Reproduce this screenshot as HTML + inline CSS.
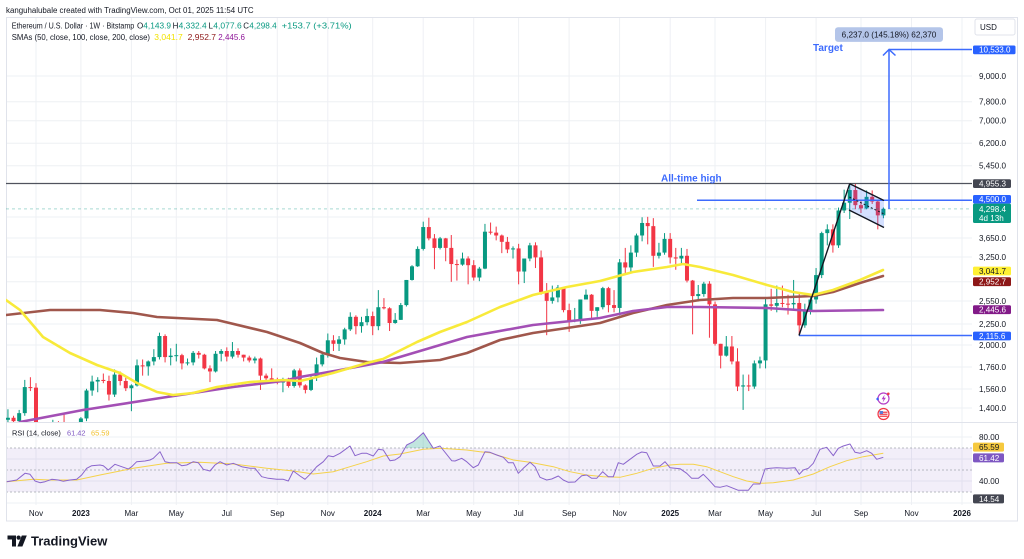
<!DOCTYPE html>
<html><head><meta charset="utf-8">
<style>
html,body{margin:0;padding:0;background:#fff;width:1024px;height:559px;overflow:hidden}
svg{position:absolute;left:0;top:0}
text{font-family:"Liberation Sans",Arial,sans-serif}
</style></head><body>
<svg width="1024" height="559">
<rect x="0" y="0" width="1024" height="559" fill="#fff"/>
<g stroke="#eef0f4" stroke-width="1">
<line x1="36" y1="17" x2="36" y2="505"/><line x1="80.9" y1="17" x2="80.9" y2="505"/><line x1="131.4" y1="17" x2="131.4" y2="505"/><line x1="176.3" y1="17" x2="176.3" y2="505"/><line x1="226.8" y1="17" x2="226.8" y2="505"/><line x1="277.3" y1="17" x2="277.3" y2="505"/><line x1="327.8" y1="17" x2="327.8" y2="505"/><line x1="372.7" y1="17" x2="372.7" y2="505"/><line x1="423.2" y1="17" x2="423.2" y2="505"/><line x1="473.7" y1="17" x2="473.7" y2="505"/><line x1="518.6" y1="17" x2="518.6" y2="505"/><line x1="569.1" y1="17" x2="569.1" y2="505"/><line x1="619.6" y1="17" x2="619.6" y2="505"/><line x1="670.2" y1="17" x2="670.2" y2="505"/><line x1="715" y1="17" x2="715" y2="505"/><line x1="765.6" y1="17" x2="765.6" y2="505"/><line x1="816.1" y1="17" x2="816.1" y2="505"/><line x1="861" y1="17" x2="861" y2="505"/><line x1="911.5" y1="17" x2="911.5" y2="505"/><line x1="962" y1="17" x2="962" y2="505"/>
<line x1="6" y1="76" x2="972" y2="76"/><line x1="6" y1="101.7" x2="972" y2="101.7"/><line x1="6" y1="120.7" x2="972" y2="120.7"/><line x1="6" y1="143.3" x2="972" y2="143.3"/><line x1="6" y1="165.7" x2="972" y2="165.7"/><line x1="6" y1="217" x2="972" y2="217"/><line x1="6" y1="238" x2="972" y2="238"/><line x1="6" y1="257" x2="972" y2="257"/><line x1="6" y1="281.8" x2="972" y2="281.8"/><line x1="6" y1="301" x2="972" y2="301"/><line x1="6" y1="324" x2="972" y2="324"/><line x1="6" y1="345" x2="972" y2="345"/><line x1="6" y1="367" x2="972" y2="367"/><line x1="6" y1="389" x2="972" y2="389"/><line x1="6" y1="408" x2="972" y2="408"/>
<line x1="6" y1="437" x2="972" y2="437"/><line x1="6" y1="459" x2="972" y2="459"/><line x1="6" y1="481" x2="972" y2="481"/><line x1="6" y1="503" x2="972" y2="503"/>
</g>
<rect x="6" y="448" width="966" height="44" fill="#7e57c2" fill-opacity="0.1"/>
<g stroke="#a3a6af" stroke-width="0.8" stroke-dasharray="2,2">
<line x1="6" y1="448" x2="972" y2="448"/><line x1="6" y1="470" x2="972" y2="470"/><line x1="6" y1="492" x2="972" y2="492"/>
</g>
<line x1="6" y1="422.5" x2="1017" y2="422.5" stroke="#e0e3eb"/>
<rect x="6.5" y="17.5" width="1011" height="503.5" fill="none" stroke="#e0e3eb"/>
</svg>
<div id="cd" style="position:absolute;left:0;top:0;width:1024px;height:559px"></div>
<svg width="1024" height="559">
<defs><clipPath id="mc"><rect x="6" y="17" width="966" height="405"/></clipPath></defs>
<g clip-path="url(#mc)" fill="none" stroke-linejoin="round" stroke-linecap="round">
<polyline stroke="#a0574c" stroke-width="2.6" points="6,315 50,310 100,310 133,313 157,317 217,320 267,332 300,343 323,353 340,358 367,362 400,363 440,360 467,353 500,340 533,333 567,328 600,323 633,313 667,305 700,300 733,298 767,298 813,296 833,292 860,283 883,276"/>
<polyline stroke="#a34fb5" stroke-width="2.6" points="20,422 83,410 167,397 233,387 283,381 300,377 340,370 383,362 467,337 533,325 600,318 633,311 667,307 700,307 767,308 813,311 883,310"/>
<polyline stroke="#f8ea3a" stroke-width="2.6" points="6,300 20,310 43,337 70,353 97,365 120,373 137,383 157,392 173,395 193,393 217,387 250,382 283,380 300,381 317,377 333,373 367,363 383,359 417,342 440,332 467,322 500,307 533,295 567,287 600,281 633,272 667,267 683,264 700,267 733,275 767,285 793,292 813,295 833,290 860,280 883,270"/>
</g>
<!-- RSI -->
<polygon points="405,448 406.7,445 413.3,441.7 423.3,432.7 433,448" fill="#089981" fill-opacity="0.25"/>
<polyline fill="none" stroke="#f5d24a" stroke-width="1" points="6.7,481.7 33.3,479.3 50,480 76.7,480 100,475 133.3,468.3 166.7,463.3 200,462.3 233.3,464 266.7,468.3 293.3,471 313.3,474 333.3,471.7 350,466.7 366.7,461.7 383.3,456 400,454 423.3,449.3 440,448.3 466.7,450 480,451.7 490,452.7 500,456 513.3,460 530,462.3 553.3,466.7 570,471.7 586.7,475 603.3,476.7 620,477.3 636.7,473.3 653.3,468.3 670,465 680,464.3 693.3,464.3 706.7,466.7 720,471.7 733.3,476.7 746.7,481 760,483.3 773.3,482.7 793.3,480 813.3,474 830,466.7 846.7,460.7 863.3,456.7 883.3,453.3"/>
<polyline fill="none" stroke="#8a65cc" stroke-width="1" stroke-linejoin="round" points="6.7,481.7 16.7,480 25,473.3 30,474.3 35,481 40,482.7 45,481.7 51.7,479.3 58.3,480 63.3,481.3 70,480 76.7,479.3 81.7,475 86.7,468.3 91.7,465.7 100,465 103.3,465.7 108.3,470 115,464.3 121.7,466.7 128.3,469 131.7,466.7 136.7,461.7 145,461 150,460 153.3,458.3 160,451.7 165,461.7 170,462.7 176.7,462.7 181.7,465.7 186.7,465 193.3,461.7 198.3,462.7 203.3,469.3 210,471 215,465 220,461.7 226.7,465 233.3,463.3 241.7,466.7 250,468.3 255,468.3 261.7,476.7 268.3,478.3 276.7,479.3 283.3,479.3 288.3,481 293.3,471 300,476 305,479.3 310,474.3 316.7,466.7 323.3,461.7 328.3,455.7 333.3,456.7 340,453.3 350,446 355,455.7 361.7,453.3 366.7,453.3 373.3,456 378.3,449.3 383.3,450 390,460.7 395,460 400,456.7 406.7,445 413.3,441.7 423.3,432.7 433.3,448.3 440,446 451.7,460.7 455,461 461.7,458.3 466.7,461.7 473.3,467.7 478.3,465 485,451.7 490,452.3 496.7,455 503.3,457.3 508.3,462.7 513.3,462.7 518.3,473.3 523.3,468.3 530,462.3 535,466.7 540,477.3 546.7,480 551.7,479 558.3,476 563.3,480 568.3,482.3 575,482 581.7,475.7 586.7,475 591.7,478.3 596.7,478.3 602.7,471.7 608.3,476.7 613.3,476.7 618.3,462.7 623.3,464.3 630,459.3 636.7,454.3 641.7,452 646.7,452.7 653.3,466 660,466 665,461.7 670,467.7 680,468.7 686.7,473.3 691.7,478.3 698.3,478.3 703.3,474.3 708.3,479.3 715,486.7 720,487.3 726.7,485.7 733.3,488.3 738.3,490.3 748.3,490.3 753.3,484 760,484 765,469 770,468.3 776.7,467.7 786.7,468.3 795,467.7 799.3,474.3 803.3,470 808.3,468.3 813.3,463.3 820,449.3 826.7,447.3 833.3,455.7 838.3,448.3 843.3,446 850,444 855,452.3 860,453.3 866.7,450.7 871.7,453.3 876.7,459.3 883.3,457.3"/>
<!-- annotations -->
<line x1="6" y1="208.9" x2="972" y2="208.9" stroke="#089981" stroke-opacity="0.35" stroke-dasharray="3,3"/>
<line x1="6" y1="183.5" x2="972" y2="183.5" stroke="#50535e" stroke-width="1.2"/>
<line x1="697" y1="200.3" x2="972" y2="200.3" stroke="#3d6bfd" stroke-width="1.5"/>
<line x1="799" y1="335.5" x2="972" y2="335.5" stroke="#3d6bfd" stroke-width="1.5"/>
<line x1="889" y1="209" x2="889" y2="49.5" stroke="#3d6bfd" stroke-width="1.5"/>
<line x1="889" y1="49.5" x2="972" y2="49.5" stroke="#3d6bfd" stroke-width="1.5"/>
<polyline points="883,55.5 889,49.5 895.5,55.5" fill="none" stroke="#3d6bfd" stroke-width="1.5"/>
<polygon points="849.7,183.7 884,200.5 884,227.5 849,210" fill="#2962ff" fill-opacity="0.2"/>
<line x1="799" y1="335.5" x2="849.7" y2="183.7" stroke="#131722" stroke-width="1.4"/>
<line x1="849.7" y1="183.7" x2="884" y2="200.5" stroke="#131722" stroke-width="1.4"/>
<line x1="849" y1="210" x2="884" y2="227.5" stroke="#131722" stroke-width="1.4"/>
<line x1="849.3" y1="197" x2="884" y2="214" stroke="#131722" stroke-width="1" stroke-dasharray="2,2"/>
<text x="661" y="181.3" font-size="10" font-weight="bold" fill="#3d6bfd">All-time high</text>
<text x="813" y="50.8" font-size="10" font-weight="bold" fill="#3d6bfd">Target</text>
<rect x="835" y="27.3" width="108" height="14.6" rx="3" fill="#b4c5e9"/>
<text x="889" y="37.4" font-size="8.2" fill="#131722" text-anchor="middle">6,237.0 (145.18%) 62,370</text>
<!-- event icons -->
<circle cx="883.5" cy="398.5" r="5.5" fill="#fff" stroke="#b43fc7" stroke-width="1.2"/>
<path d="M884.6 394.6 L881.6 399.2 H883.6 L882.6 402.6 L885.9 397.8 H883.9 Z" fill="#b43fc7"/>
<circle cx="888.3" cy="393.8" r="1.3" fill="#f23645"/>
<path d="M876 399 h3 M877.5 397.5 v3" stroke="#2962ff" stroke-width="0.9"/>
<circle cx="883.5" cy="414" r="5.5" fill="#fff" stroke="#f23645" stroke-width="1.2"/>
<rect x="879.5" y="411" width="8" height="6" fill="#f7b8bc"/>
<path d="M879.5 412.5 h8 M879.5 414.5 h8 M879.5 416.5 h8" stroke="#f23645" stroke-width="0.7"/>
<rect x="879.5" y="411" width="3.5" height="3" fill="#5b7bd6"/>
<!-- header -->
<text x="6" y="13" font-size="7.9" fill="#131722">kanguhalubale created with TradingView.com, Oct 01, 2025 11:54 UTC</text>
<g font-size="8" fill="#131722">
<text x="11.7" y="28.5" textLength="122.6" lengthAdjust="spacingAndGlyphs">Ethereum / U.S. Dollar · 1W · Bitstamp</text>
<text x="137" y="28.5">O</text>
<text x="143.3" y="28.5" fill="#089981" textLength="27.7" lengthAdjust="spacingAndGlyphs">4,143.9</text>
<text x="172.6" y="28.5">H</text>
<text x="178.7" y="28.5" fill="#089981" textLength="28" lengthAdjust="spacingAndGlyphs">4,332.4</text>
<text x="208.5" y="28.5">L</text>
<text x="213.3" y="28.5" fill="#089981" textLength="28.4" lengthAdjust="spacingAndGlyphs">4,077.6</text>
<text x="243.2" y="28.5">C</text>
<text x="249.3" y="28.5" fill="#089981" textLength="27.4" lengthAdjust="spacingAndGlyphs">4,298.4</text>
<text x="281.7" y="28.5" fill="#089981" textLength="70" lengthAdjust="spacingAndGlyphs">+153.7 (+3.71%)</text>
<text x="11.7" y="40" textLength="138.3" lengthAdjust="spacingAndGlyphs">SMAs (50, close, 100, close, 200, close)</text>
<text x="154.3" y="40" fill="#f2e200" textLength="28.4" lengthAdjust="spacingAndGlyphs">3,041.7</text>
<text x="187.7" y="40" fill="#8d1717" textLength="28.3" lengthAdjust="spacingAndGlyphs">2,952.7</text>
<text x="218.3" y="40" fill="#8e1599" textLength="26.7" lengthAdjust="spacingAndGlyphs">2,445.6</text>
</g>
<text y="435.6" font-size="7.4" fill="#131722"><tspan x="12">RSI (14, close)</tspan><tspan x="67" fill="#7e57c2">61.42</tspan><tspan x="91" fill="#f2c12e">65.59</tspan></text>
<!-- price axis -->
<rect x="975" y="19" width="40" height="16" rx="2" fill="#fff" stroke="#e0e3eb"/>
<text x="980" y="30" font-size="8" fill="#131722">USD</text>
<g font-size="8.1" fill="#131722">
<text x="979" y="78.9">9,000.0</text><text x="979" y="104.6">7,800.0</text><text x="979" y="123.6">7,000.0</text><text x="979" y="146.2">6,200.0</text><text x="979" y="168.6">5,450.0</text><text x="979" y="240.9">3,650.0</text><text x="979" y="259.9">3,250.0</text><text x="979" y="303.9">2,550.0</text><text x="979" y="326.9">2,250.0</text><text x="979" y="347.9">2,000.0</text><text x="979" y="369.9">1,760.0</text><text x="979" y="391.9">1,560.0</text><text x="979" y="410.9">1,400.0</text>
<text x="979" y="439.9">80.00</text><text x="979" y="483.9">40.00</text>
</g>
<rect x="973" y="45.5" width="42.5" height="8.8" rx="1.5" fill="#2962ff"/><text x="979" y="52.7" font-size="8.1" fill="#fff">10,533.0</text>
<rect x="973" y="179.2" width="38" height="8.8" rx="1.5" fill="#434651"/><text x="979" y="186.4" font-size="8.1" fill="#fff">4,955.3</text>
<rect x="973" y="195" width="38" height="8.6" rx="1.5" fill="#2962ff"/><text x="979" y="202.1" font-size="8.1" fill="#fff">4,500.0</text>
<rect x="973" y="203.6" width="38" height="19.4" rx="1.5" fill="#089981"/><text x="979" y="211.9" font-size="8.1" fill="#fff">4,298.4</text><text x="979" y="220.9" font-size="8.1" fill="#fff">4d 13h</text>
<rect x="973" y="266.6" width="38" height="8.8" rx="1.5" fill="#fff033"/><text x="979" y="273.9" font-size="8.1" fill="#131722">3,041.7</text>
<rect x="973" y="277.3" width="38" height="8.8" rx="1.5" fill="#8d1717"/><text x="979" y="284.6" font-size="8.1" fill="#fff">2,952.7</text>
<rect x="973" y="305.3" width="38" height="8.8" rx="1.5" fill="#821a88"/><text x="979" y="312.6" font-size="8.1" fill="#fff">2,445.6</text>
<rect x="973" y="331.6" width="38" height="8.8" rx="1.5" fill="#2962ff"/><text x="979" y="338.9" font-size="8.1" fill="#fff">2,115.6</text>
<rect x="973" y="442.6" width="31" height="9" rx="1.5" fill="#f6c93e"/><text x="979" y="449.9" font-size="8.1" fill="#131722">65.59</text>
<rect x="973" y="453.4" width="31" height="9" rx="1.5" fill="#7e57c2"/><text x="979" y="460.9" font-size="8.1" fill="#fff">61.42</text>
<rect x="973" y="494.4" width="31" height="9" rx="1.5" fill="#434651"/><text x="979" y="501.9" font-size="8.1" fill="#fff">14.54</text>
<!-- time axis -->
<g font-size="8" fill="#131722" text-anchor="middle">
<text x="36" y="516">Nov</text><text x="80.9" y="516" font-weight="bold">2023</text><text x="131.4" y="516">Mar</text><text x="176.3" y="516">May</text><text x="226.8" y="516">Jul</text><text x="277.3" y="516">Sep</text><text x="327.8" y="516">Nov</text><text x="372.7" y="516" font-weight="bold">2024</text><text x="423.2" y="516">Mar</text><text x="473.7" y="516">May</text><text x="518.6" y="516">Jul</text><text x="569.1" y="516">Sep</text><text x="619.6" y="516">Nov</text><text x="670.2" y="516" font-weight="bold">2025</text><text x="715" y="516">Mar</text><text x="765.6" y="516">May</text><text x="816.1" y="516">Jul</text><text x="861" y="516">Sep</text><text x="911.5" y="516">Nov</text><text x="962" y="516" font-weight="bold">2026</text>
</g>
<!-- logo -->
<path d="M7.5 535.5 H16 V546.5 H12 V539.5 H7.5 Z" fill="#131722"/>
<circle cx="18.6" cy="537.6" r="2.1" fill="#131722"/>
<path d="M21.8 535.5 H26.8 L22.4 546.5 H17.4 Z" fill="#131722"/>
<text x="31" y="545.6" font-size="13" font-weight="bold" fill="#131722">TradingView</text>
</svg>
<script>
var D=[
[1310,1390,1290,1325],[1325,1340,1190,1300],[1300,1385,1270,1360],[1360,1640,1340,1575],[1575,1665,1540,1570],
[1570,1610,1070,1250],[1250,1290,1180,1200],[1200,1230,1070,1210],[1210,1310,1150,1280],[1280,1300,1220,1270],
[1270,1350,1160,1170],[1170,1230,1150,1220],[1220,1230,1190,1200],[1200,1330,1190,1320],[1320,1560,1300,1545],
[1545,1680,1500,1625],[1625,1665,1530,1640],[1640,1700,1610,1630],[1630,1680,1460,1510],[1510,1740,1490,1690],
[1690,1720,1590,1630],[1630,1660,1540,1565],[1565,1600,1375,1590],[1590,1840,1580,1780],[1780,1840,1680,1770],
[1770,1830,1680,1820],[1820,1950,1780,1865],[1865,2140,1840,2100],[2100,2120,1810,1865],[1865,1960,1780,1880],
[1880,2010,1820,1885],[1885,1900,1740,1800],[1800,1850,1780,1810],[1810,1930,1780,1910],[1910,1930,1850,1890],
[1890,1900,1740,1750],[1750,1780,1620,1720],[1720,1930,1710,1900],[1900,1950,1820,1930],[1930,1970,1820,1870],
[1870,2030,1850,1930],[1930,1960,1860,1890],[1890,1890,1820,1860],[1860,1880,1810,1830],[1830,1870,1800,1850],
[1850,1860,1550,1680],[1680,1700,1610,1655],[1655,1750,1620,1630],[1630,1660,1600,1620],[1620,1660,1530,1625],
[1625,1660,1570,1585],[1585,1745,1570,1730],[1730,1750,1570,1590],[1590,1600,1520,1550],[1550,1690,1540,1660],
[1660,1860,1630,1790],[1790,1900,1770,1890],[1890,2130,1860,2050],[2050,2110,1930,2010],[2010,2100,1930,2060],
[2060,2200,2000,2180],[2180,2400,2160,2340],[2340,2360,2120,2220],[2220,2340,2140,2270],[2270,2450,2230,2350],
[2350,2410,2110,2220],[2220,2720,2170,2470],[2470,2600,2440,2455],[2455,2470,2160,2260],[2260,2390,2250,2300],
[2300,2530,2300,2500],[2500,2880,2480,2880],[2880,3130,2870,3110],[3110,3480,3100,3430],[3430,4000,3400,3880],
[3880,4090,3600,3640],[3640,3730,3060,3450],[3450,3670,3420,3640],[3640,3650,3200,3450],[3450,3710,2850,3150],
[3150,3230,2870,3140],[3140,3360,3120,3250],[3250,3290,2810,3130],[3130,3220,2870,2920],[2920,3100,2860,3070],
[3070,3950,3060,3780],[3780,3980,3720,3760],[3760,3890,3600,3700],[3700,3720,3350,3570],[3570,3670,3350,3420],
[3420,3480,3250,3440],[3440,3530,2810,3020],[3020,3250,2830,3250],[3250,3550,3200,3500],[3500,3560,3080,3270],
[3270,3400,2650,2690],[2690,2830,2110,2560],[2560,2790,2520,2610],[2610,2800,2540,2760],[2760,2760,2400,2430],
[2430,2520,2150,2280],[2280,2460,2270,2300],[2300,2580,2250,2580],[2580,2730,2580,2650],[2650,2660,2310,2420],
[2420,2470,2340,2470],[2470,2770,2440,2750],[2750,2770,2400,2500],[2500,2720,2400,2460],[2460,3240,2360,3180],
[3180,3450,2960,3090],[3090,3500,3020,3360],[3360,3740,3280,3700],[3700,4100,3580,3970],[3970,4110,3520,3900],
[3900,4080,3100,3300],[3300,3550,3250,3360],[3360,3750,3320,3630],[3630,3750,3160,3270],[3270,3450,3050,3250],
[3250,3450,3130,3300],[3300,3430,2840,2870],[2870,2880,2120,2630],[2630,2800,2550,2660],[2660,2850,2620,2820],
[2820,2860,2080,2510],[2510,2550,1990,2010],[2010,2010,1750,1880],[1880,2100,1870,1980],[1980,2100,1790,1820],
[1820,1960,1540,1580],[1580,1690,1385,1590],[1590,1690,1540,1580],[1580,1830,1560,1800],[1800,1870,1750,1830],
[1830,2600,1750,2510],[2510,2740,2420,2490],[2490,2790,2400,2530],[2530,2790,2470,2520],[2520,2650,2370,2510],
[2510,2880,2440,2530],[2530,2680,2115.6,2230],[2230,2520,2200,2430],[2430,2640,2370,2580],[2580,3080,2520,2960],
[2960,3780,2910,3750],[3750,3940,3500,3830],[3830,3940,3360,3500],[3500,4330,3450,4260],[4260,4790,4200,4450],
[4450,4955.3,4060,4780],[4780,4950,4290,4390],[4390,4490,4200,4310],[4310,4770,4290,4600],[4600,4770,4420,4480],
[4480,4500,3830,4144],[4143.9,4332.4,4077.6,4298.4]
];
function Y(p){return 49.8+(9.2622-Math.log(p))*177.5;}
var s='<svg width="1024" height="559" style="position:absolute;left:0;top:0"><defs><clipPath id="cc"><rect x="6" y="17" width="966" height="405"/></clipPath></defs><g clip-path="url(#cc)">';
for(var k=0;k<D.length;k++){
 var i=k-5,x=36+i*5.612,d=D[k],o=d[0],h=d[1],l=d[2],c=d[3];
 var col=c>=o?'#089981':'#f23645';
 var yh=Y(h),yl=Y(l),yt=Y(Math.max(o,c)),yb=Y(Math.min(o,c));
 var bh=Math.max(yb-yt,1);
 s+='<rect x="'+(x-0.5).toFixed(2)+'" y="'+yh.toFixed(2)+'" width="1" height="'+(yl-yh).toFixed(2)+'" fill="'+col+'"/>';
 s+='<rect x="'+(x-2).toFixed(2)+'" y="'+yt.toFixed(2)+'" width="4" height="'+bh.toFixed(2)+'" fill="'+col+'"/>';
}
s+='</g></svg>';
document.getElementById('cd').innerHTML=s;
</script>
</body></html>
